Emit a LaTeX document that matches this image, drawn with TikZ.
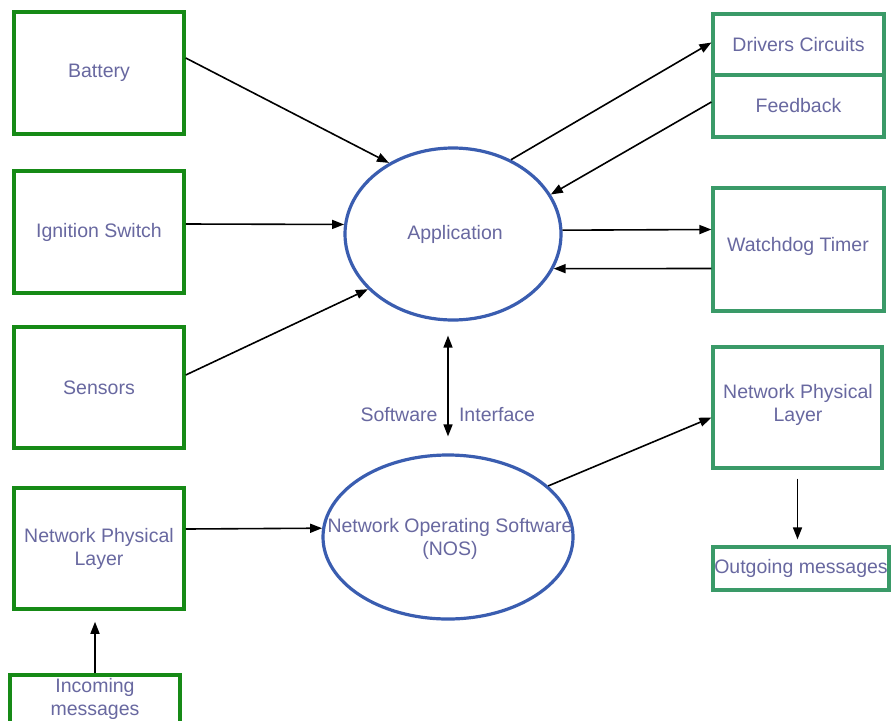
\documentclass[tikz,border=0pt]{standalone}
\usepackage{fontspec}
\setmainfont{Liberation Sans}
\usetikzlibrary{arrows.meta,shapes.geometric}
\definecolor{txt}{HTML}{6868A0}
\definecolor{leftgreen}{HTML}{168A16}
\definecolor{rightgreen}{HTML}{3A9A68}
\definecolor{ellblue}{HTML}{3A5DB0}
\tikzset{
  lbl/.style={text=txt,font=\fontsize{19.5}{23}\selectfont,align=center},
  lbox/.style={lbl,draw=leftgreen,line width=3.5pt,rectangle,inner sep=0pt,minimum width=170pt},
  rbox/.style={lbl,draw=rightgreen,line width=3.2pt,rectangle,inner sep=0pt},
  oval/.style={draw=ellblue,line width=3.2pt,ellipse,inner sep=0pt},
  arr/.style={line width=1.6pt,-{Triangle[length=12pt,width=9pt]}},
  dblarr/.style={line width=1.6pt,{Triangle[length=12pt,width=9pt]}-{Triangle[length=12pt,width=9pt]}},
}
\begin{document}
\begin{tikzpicture}[x=1pt,y=-1pt]
\useasboundingbox (0,0) rectangle (893,720);
\clip (0,0) rectangle (893,720);
\fill[white] (0,0) rectangle (893,720);

% left column inputs
\node[lbox,minimum height=122pt] (bat) at (99,73) {Battery};
\node[lbox,minimum height=122pt] (ign) at (99,232) {Ignition Switch};
\node[lbox,minimum height=121pt] (sen) at (99,387.5) {Sensors};
\node[lbox,minimum height=121pt] (lnpl) at (99,548.5) {Network Physical\\Layer};
\node[lbox,minimum height=50pt] (inc) at (95,700) {};
\node[lbl,anchor=north] (inctxt) at (95,675) {Incoming\\messages};

% central processes
\node[oval,minimum width=216pt,minimum height=172pt] (app) at (453,234) {};
\node[lbl] (apptxt) at (455,234.5) {Application};
\node[oval,minimum width=250pt,minimum height=164pt] (nos) at (448,537) {};
\node[lbl] (nostxt) at (450,538.5) {Network Operating Software\\(NOS)};

% right column outputs
\node[rbox,minimum width=171pt,minimum height=61pt] (drv) at (798.5,44.5) {Drivers Circuits};
\node[rbox,minimum width=171pt,minimum height=62pt] (fb) at (798.5,106) {Feedback};
\node[rbox,minimum width=171pt,minimum height=123pt] (wdt) at (798.5,249.5) {};
\node[lbl] (wdttxt) at (798,246) {Watchdog Timer};
\node[rbox,minimum width=169pt,minimum height=121pt] (rnpl) at (797.5,407.5) {};
\node[lbl] (rnpltxt) at (798,404.5) {Network Physical\\Layer};
\node[rbox,minimum width=176pt,minimum height=43pt] (out) at (801,568.5) {Outgoing messages};

% software interface label
\node[lbl] (sw) at (399,415) {Software};
\node[lbl] (ifc) at (497,415) {Interface};

% connectors
\draw[arr] ([yshift=15pt]bat.east) -- (app.132);
\draw[arr] ([yshift=8pt]ign.east) -- (app.175);
\draw[arr] ([yshift=12.5pt]sen.east) -- (app.213);
\draw[arr] (app.52) -- ([yshift=2pt]drv.west);
\draw[arr] ([yshift=4pt]fb.west) -- (app.22);
\draw[arr] (app.2) -- ([yshift=20pt]wdt.west);
\draw[arr] ([yshift=-19pt]wdt.west) -- (app.-19);
\draw[dblarr,shorten <=14pt,shorten >=17pt] ([xshift=-5pt]app.south) -- (nos.north);
\draw[arr] (nos.27.6) -- ([yshift=-10pt]rnpl.west);
\draw[arr,shorten <=9pt,shorten >=6pt] (rnpl.south) -- (rnpl.south |- out.north);
\draw[arr] ([yshift=19.5pt]lnpl.east) -- (nos.176);
\draw[arr,shorten >=11pt] (inc.north) -- (inc.north |- lnpl.south);
\end{tikzpicture}
\end{document}
